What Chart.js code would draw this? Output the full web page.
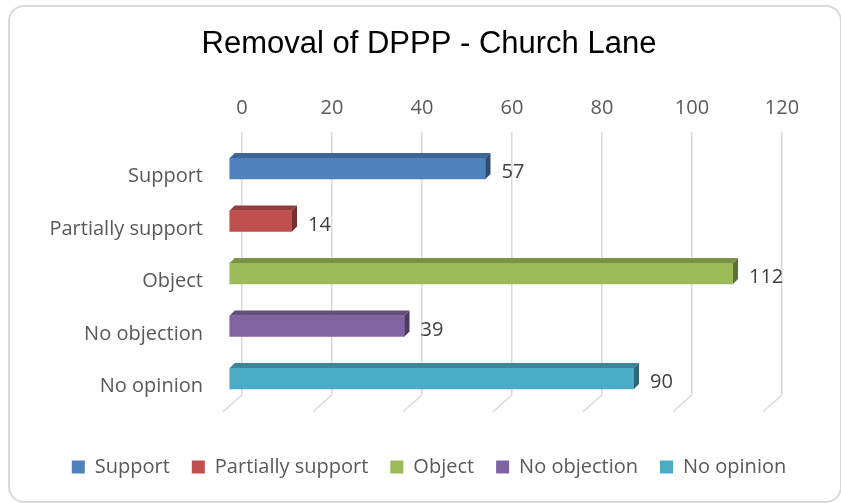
<!DOCTYPE html>
<html>
<head>
<meta charset="utf-8">
<title>Removal of DPPP - Church Lane</title>
<script src="https://cdn.jsdelivr.net/npm/chart.js@4.4.0/dist/chart.umd.min.js"></script>
<style>
  html, body { margin: 0; padding: 0; background: #fff; }
  #wrap { position: relative; width: 841px; height: 503px; }
  #frame {
    position: absolute; left: 8px; top: 5px; width: 830px; height: 494px;
    border: 2px solid #d9d9d9; border-radius: 16px; pointer-events: none;
  }
</style>
</head>
<body>
<div id="wrap">
  <canvas id="myChart"></canvas>
  <div id="frame"></div>
</div>
<script>
let categories = ["Support", "Partially support", "Object", "No objection", "No opinion"];
let values = [57, 14, 112, 39, 90];
let colors = ["#4F81BD", "#C0504D", "#9BBB59", "#8064A2", "#4BACC6"];
let xMin = 0;
let xMax = 120;
let xStep = 20;

let font = "'Open Sans', 'DejaVu Sans', sans-serif";
let depth = 5;            // 3d depth of the bars
let shift = { x: -13, y: 10 }; // bars sit in front of the back wall

function shade(hex, f) {
  let n = parseInt(hex.slice(1), 16);
  let r = Math.round(((n >> 16) & 255) * f);
  let g = Math.round(((n >> 8) & 255) * f);
  let b = Math.round((n & 255) * f);
  return "rgb(" + r + "," + g + "," + b + ")";
}

// one dataset per category so the legend lists each answer
let datasets = categories.map(function (c, i) {
  return {
    label: c,
    data: categories.map(function (_, j) { return j === i ? values[i] : null; }),
    backgroundColor: colors[i],
    borderWidth: 0,
    barThickness: 21,
    grouped: false,
    clip: false
  };
});

let bars3d = {
  id: "bars3d",
  beforeDatasetsDraw(chart) {
    let ctx = chart.ctx;
    let area = chart.chartArea;
    let xs = chart.scales.x;
    // floor lines under the grid
    ctx.save();
    ctx.strokeStyle = "#d9d9d9";
    ctx.lineWidth = 1.5;
    xs.ticks.forEach(function (t) {
      let px = xs.getPixelForValue(t.value);
      ctx.beginPath();
      ctx.moveTo(px, area.bottom);
      ctx.lineTo(px - 19, area.bottom + 17);
      ctx.stroke();
    });
    ctx.restore();
    ctx.save();
    ctx.translate(shift.x, shift.y);
  },
  afterDatasetsDraw(chart) {
    let ctx = chart.ctx;
    chart.data.datasets.forEach(function (ds, i) {
      chart.getDatasetMeta(i).data.forEach(function (bar, j) {
        if (ds.data[j] == null) return;
        let p = bar.getProps(["x", "y", "base", "height"], true);
        let top = p.y - p.height / 2;
        let bottom = p.y + p.height / 2;
        // top face
        ctx.fillStyle = shade(colors[i], 0.78);
        ctx.beginPath();
        ctx.moveTo(p.base, top);
        ctx.lineTo(p.base + depth, top - depth);
        ctx.lineTo(p.x + depth, top - depth);
        ctx.lineTo(p.x, top);
        ctx.closePath();
        ctx.fill();
        // side face
        ctx.fillStyle = shade(colors[i], 0.6);
        ctx.beginPath();
        ctx.moveTo(p.x, top);
        ctx.lineTo(p.x + depth, top - depth);
        ctx.lineTo(p.x + depth, bottom - depth);
        ctx.lineTo(p.x, bottom);
        ctx.closePath();
        ctx.fill();
        // value label
        ctx.fillStyle = "#404040";
        ctx.font = "20px " + font;
        ctx.textAlign = "left";
        ctx.textBaseline = "middle";
        ctx.fillText(String(ds.data[j]), p.x + depth + 11, p.y + 4);
      });
    });
    ctx.restore();
  }
};

let ctx1 = document.getElementById("myChart").getContext("2d");
let chart1 = new Chart(ctx1, {
  type: "bar",
  data: {
    labels: categories,
    datasets: datasets
  },
  plugins: [bars3d],
  options: {
    indexAxis: "y",
    responsive: true,
    maintainAspectRatio: false,
    animation: false,
    layout: { padding: { left: 17, right: 0, top: 0, bottom: 16 } },
    scales: {
      x: {
        position: "top",
        min: xMin,
        max: xMax,
        afterFit(scale) { scale.height = 69; },
        ticks: {
          stepSize: xStep,
          padding: 12,
          color: "#595959",
          font: { family: font, size: 20 }
        },
        grid: { color: "#d9d9d9", lineWidth: 1.5, drawTicks: false },
        border: { display: false }
      },
      y: {
        afterFit(scale) { scale.width = 225; },
        ticks: {
          padding: 31,
          labelOffset: 18,
          color: "#595959",
          font: { family: font, size: 20 }
        },
        grid: { display: false },
        border: { display: false }
      },
      // empty right margin so title and legend centre like the original
      y2: {
        type: "category",
        axis: "y",
        labels: categories,
        position: "right",
        afterFit(scale) { scale.width = 59; },
        ticks: { display: false },
        grid: { display: false },
        border: { display: false }
      }
    },
    plugins: {
      title: {
        display: true,
        text: "Removal of DPPP - Church Lane",
        color: "#000",
        font: { family: "'Liberation Sans', Arial, sans-serif", size: 31, weight: "normal" },
        padding: { top: 26, bottom: 0 }
      },
      legend: {
        position: "bottom",
        title: { display: true, text: "", font: { size: 1 }, padding: { top: 39, bottom: 0 } },
        labels: {
          boxWidth: 13,
          boxHeight: 13,
          padding: 22,
          color: "#595959",
          font: { family: font, size: 20 }
        }
      },
      tooltip: { enabled: false }
    }
  }
});
</script>
</body>
</html>
